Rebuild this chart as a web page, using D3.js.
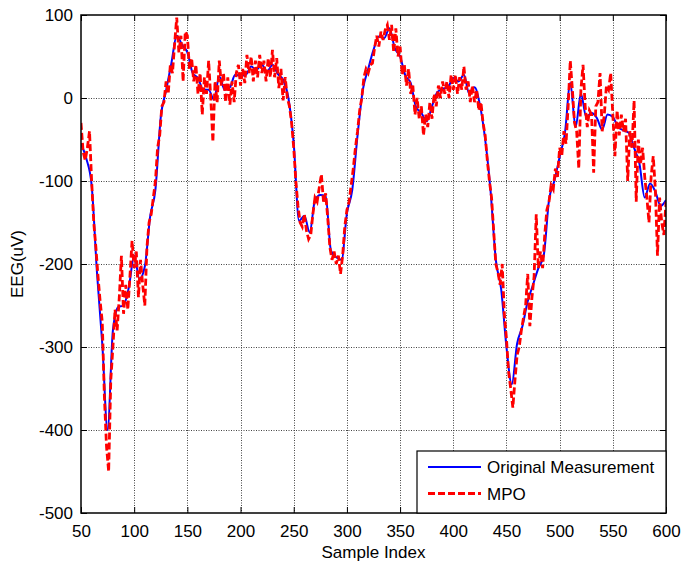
<!DOCTYPE html>
<html>
<head>
<meta charset="utf-8">
<script src="https://cdn.jsdelivr.net/npm/d3@7"></script>
<style>
body { margin:0; background:#fff; }
text { font-family: "Liberation Sans", Arial, sans-serif; fill:#000; }
</style>
</head>
<body>
<div id="chart"></div>
<script>
// original measurement, sample 50..600 every 5 samples
var origStart = 50, origStep = 5;
var original = [
  -55, -73, -105, -210, -296, -400, -280, -252, -250, -228,
  -190, -218, -203, -143, -110, -23, 9, 42, 75, 64,
  55, 30, 24, 10, 10, -2, 26, 10, 13, 28,
  27, 28, 38, 34, 40, 32, 40, 29, 22, 0,
  -55, -148, -142, -162, -123, -117, -118, -184, -192, -195,
  -139, -111, -45, 10, 35, 58, 74, 72, 84, 60,
  50, 27, 18, -11, -18, -28, -10, 7, 11, 13,
  24, 20, 28, 5, 13, -8, -50, -111, -195, -230,
  -300, -345, -296, -275, -245, -225, -205, -190, -123, -100,
  -71, -42, 18, -35, 5, -23, -18, -24, -38, -20,
  -23, -35, -39, -42, -60, -79, -120, -103, -113, -130,
  -123
];

// MPO estimate, sample 50..600 every 2 samples
var mpoStart = 50, mpoStep = 2;
var mpo = [
  -30, -65, -75, -60, -40, -100, -150, -180, -215, -245,
  -270, -360, -420, -450, -340, -300, -255, -280, -240, -190,
  -260, -225, -255, -215, -172, -205, -185, -240, -195, -225,
  -250, -180, -150, -140, -120, -100, -60, -45, -10, -5,
  20, 5, 40, 30, 65, 97, 55, 75, 20, 80,
  75, 35, 48, 20, 40, 5, 30, -20, 25, 5,
  45, 0, -53, 20, -5, 45, 15, 30, -5, 25,
  -8, 20, -5, 30, 40, 15, 35, 18, 52, 30,
  50, 20, 45, 25, 52, 30, 45, 20, 48, 25,
  58, 25, 48, 12, 35, -3, 25, 0, -10, -30,
  -60, -100, -130, -150, -155, -140, -160, -170, -165, -140,
  -120, -125, -108, -92, -125, -115, -145, -180, -195, -185,
  -200, -190, -212, -190, -155, -135, -125, -105, -85, -60,
  -40, -15, 0, 25, 35, 30, 40, 42, 60, 75,
  62, 80, 70, 82, 88, 70, 88, 55, 84, 50,
  62, 28, 40, 15, 35, 5, 15, -20, 0, -25,
  -10, -45, -20, -35, -5, -25, 5, -10, 15, 0,
  20, 5, 20, 0, 28, 10, 28, 5, 25, 10,
  38, 10, 20, -5, 15, -5, 10, -15, -5, -30,
  -45, -75, -100, -120, -160, -200, -210, -225, -200, -260,
  -290, -330, -350, -373, -340, -310, -300, -280, -265, -250,
  -212, -275, -240, -215, -140, -205, -185, -205, -165, -135,
  -125, -105, -110, -85, -95, -60, -70, -40, -55, -10,
  45, 10, -30, -40, -85, 10, 40, -10, -35, -15,
  -20, -90, -10, -5, 30, -40, -20, 15, 10, 30,
  -20, -70, -15, -45, -20, -40, -25, -100, -40, -60,
  -3, -125, -50, -80, -60, -95, -120, -150, -95, -70,
  -110, -190, -120, -150, -165,
  -125
];

var xTicks = [50, 100, 150, 200, 250, 300, 350, 400, 450, 500, 550, 600];
var yTicks = [-500, -400, -300, -200, -100, 0, 100];
var seriesNames = ["Original Measurement", "MPO"];

var w = 683, h = 568;
var margins = {top:15, left:81, right:17, bottom:55};
var graph = {width: w - margins.left - margins.right, height: h - margins.top - margins.bottom};

var xScale = d3.scaleLinear().domain([50, 600]).range([margins.left, margins.left + graph.width]);
var yScale = d3.scaleLinear().domain([-500, 100]).range([margins.top + graph.height, margins.top]);

var svg = d3.select("#chart")
  .append("svg")
  .attr("width", w)
  .attr("height", h);

svg.append("defs").append("clipPath")
  .attr("id", "plot")
  .append("rect")
  .attr("x", margins.left)
  .attr("y", margins.top)
  .attr("width", graph.width)
  .attr("height", graph.height);

// dotted grid
var grid = svg.append("g").attr("stroke", "#444").attr("stroke-width", 1).attr("stroke-dasharray", "1,1.5");
grid.selectAll(".gx")
  .data(xTicks.slice(1, -1))
  .enter().append("line")
  .attr("x1", function(d){ return Math.round(xScale(d)) + 0.5; })
  .attr("x2", function(d){ return Math.round(xScale(d)) + 0.5; })
  .attr("y1", margins.top)
  .attr("y2", margins.top + graph.height);
grid.selectAll(".gy")
  .data(yTicks.slice(1, -1))
  .enter().append("line")
  .attr("y1", function(d){ return Math.round(yScale(d)) + 0.5; })
  .attr("y2", function(d){ return Math.round(yScale(d)) + 0.5; })
  .attr("x1", margins.left)
  .attr("x2", margins.left + graph.width);

var plot = svg.append("g").attr("clip-path", "url(#plot)");

var origLine = d3.line()
  .x(function(d, i){ return xScale(origStart + i * origStep); })
  .y(function(d){ return yScale(d); })
  .curve(d3.curveMonotoneX);

var mpoLine = d3.line()
  .x(function(d, i){ return xScale(mpoStart + i * mpoStep); })
  .y(function(d){ return yScale(d); });

plot.append("path")
  .datum(original)
  .attr("d", origLine)
  .attr("fill", "none")
  .attr("stroke", "#0000ff")
  .attr("stroke-width", 2);

plot.append("path")
  .datum(mpo)
  .attr("d", mpoLine)
  .attr("fill", "none")
  .attr("stroke", "#ff0000")
  .attr("stroke-width", 2.8)
  .attr("stroke-dasharray", "7,3");

// axes, MATLAB style ticks inside the box
var plain = function(d){ return String(d); };
var xAxis = d3.axisBottom(xScale).tickValues(xTicks).tickFormat(plain).tickSizeInner(-6).tickSizeOuter(0).tickPadding(12);
var yAxis = d3.axisLeft(yScale).tickValues(yTicks).tickFormat(plain).tickSizeInner(-6).tickSizeOuter(0).tickPadding(8);

svg.append("g")
  .attr("transform", "translate(0," + (margins.top + graph.height) + ")")
  .call(xAxis)
  .call(function(g){ g.select(".domain").remove(); g.selectAll("text").attr("font-size", 17).attr("font-family", null); });

svg.append("g")
  .attr("transform", "translate(" + margins.left + ",0)")
  .call(yAxis)
  .call(function(g){ g.select(".domain").remove(); g.selectAll("text").attr("font-size", 17).attr("font-family", null); });

svg.append("g")
  .attr("transform", "translate(0," + margins.top + ")")
  .call(d3.axisTop(xScale).tickValues(xTicks).tickSizeInner(-6).tickSizeOuter(0).tickFormat(""))
  .call(function(g){ g.select(".domain").remove(); });

svg.append("g")
  .attr("transform", "translate(" + (margins.left + graph.width) + ",0)")
  .call(d3.axisRight(yScale).tickValues(yTicks).tickSizeInner(-6).tickSizeOuter(0).tickFormat(""))
  .call(function(g){ g.select(".domain").remove(); });

svg.append("rect")
  .attr("x", margins.left)
  .attr("y", margins.top)
  .attr("width", graph.width)
  .attr("height", graph.height)
  .attr("fill", "none")
  .attr("stroke", "#000")
  .attr("stroke-width", 1.5);

var labels = svg.append("g");
labels.append("text")
  .text("Sample Index")
  .attr("text-anchor", "middle")
  .attr("font-size", 17)
  .attr("x", margins.left + graph.width / 2)
  .attr("y", 558);
labels.append("text")
  .text("EEG(uV)")
  .attr("text-anchor", "middle")
  .attr("font-size", 17)
  .attr("transform", "translate(23," + (margins.top + graph.height / 2) + ") rotate(-90)");

// legend
var legend = svg.append("g");
legend.append("rect")
  .attr("x", 417).attr("y", 451)
  .attr("width", margins.left + graph.width - 417)
  .attr("height", margins.top + graph.height - 451)
  .attr("fill", "#fff")
  .attr("stroke", "#000")
  .attr("stroke-width", 1.2);
legend.selectAll("line.key")
  .data(seriesNames)
  .enter().append("line")
  .attr("x1", 428).attr("x2", 481)
  .attr("y1", function(d, i){ return 467 + i * 26.5; })
  .attr("y2", function(d, i){ return 467 + i * 26.5; })
  .attr("stroke", function(d, i){ return i == 0 ? "#0000ff" : "#ff0000"; })
  .attr("stroke-width", function(d, i){ return i == 0 ? 2 : 2.8; })
  .attr("stroke-dasharray", function(d, i){ return i == 0 ? null : "7,3"; });
legend.selectAll("text")
  .data(seriesNames)
  .enter().append("text")
  .text(function(d){ return d; })
  .attr("font-size", 17)
  .attr("x", 487)
  .attr("y", function(d, i){ return 473 + i * 26.5; });
</script>
</body>
</html>
